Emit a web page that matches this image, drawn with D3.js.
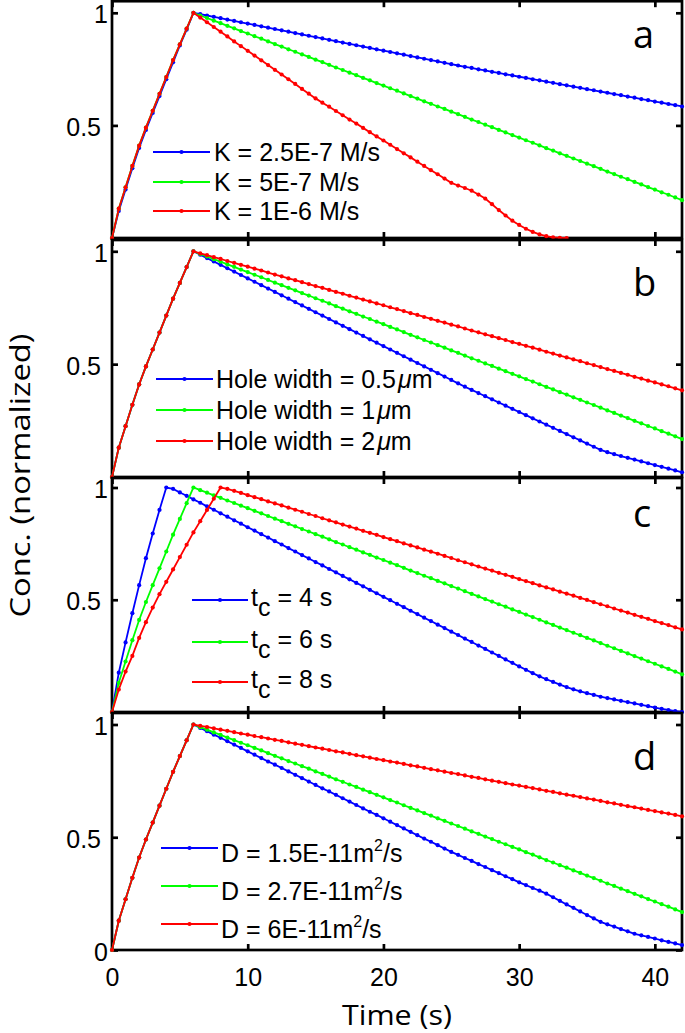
<!DOCTYPE html>
<html>
<head>
<meta charset="utf-8">
<script src="https://cdnjs.cloudflare.com/ajax/libs/d3/7.8.5/d3.min.js"></script>
<style>
  body { margin: 0; background: #fff; }
</style>
</head>
<body>
<svg width="685" height="1033"></svg>
<script>
// sample times (s)
var time = [0,0.5,1,1.5,2,2.5,3,3.5,4,4.5,5,5.5,6,6.5,7,7.5,8,8.5,9,9.5,10,10.5,11,11.5,12,12.5,13,13.5,14,14.5,15,15.5,16,16.5,17,17.5,18,18.5,19,19.5,20,20.5,21,21.5,22,22.5,23,23.5,24,24.5,25,25.5,26,26.5,27,27.5,28,28.5,29,29.5,30,30.5,31,31.5,32,32.5,33,33.5,34,34.5,35,35.5,36,36.5,37,37.5,38,38.5,39,39.5,40,40.5,41,41.5,42];

var xTicks = [0, 10, 20, 30, 40];
var yTicks = [0, 0.5, 1];

// base case (K = 5E-7, 1um, tc = 6 s, D = 2.7E-11) -- green in every panel
var baseCase = [0,0.13,0.225,0.32,0.41,0.49,0.565,0.64,0.715,0.79,0.86,0.93,1,
  0.988,0.977,0.965,0.954,0.942,0.931,0.919,0.908,0.896,0.885,
  0.873,0.861,0.850,0.838,0.827,0.815,0.804,0.792,0.781,0.769,
  0.757,0.746,0.734,0.723,0.711,0.700,0.688,0.677,0.665,0.654,
  0.642,0.630,0.619,0.607,0.596,0.584,0.573,0.561,0.550,0.538,
  0.526,0.515,0.503,0.492,0.480,0.469,0.457,0.446,0.434,0.423,
  0.411,0.399,0.388,0.376,0.365,0.353,0.342,0.330,0.319,0.307,
  0.295,0.284,0.272,0.261,0.249,0.238,0.226,0.215,0.203,0.192,
  0.180,0.168];

// panel a : K
var kLabels = ["K = 2.5E-7 M/s", "K = 5E-7 M/s", "K = 1E-6 M/s"];
var kSlow = [0,0.12,0.215,0.31,0.40,0.48,0.555,0.63,0.705,0.78,0.855,0.925,1,
  0.994,0.988,0.982,0.976,0.970,0.964,0.958,0.952,0.946,0.940,
  0.934,0.928,0.922,0.916,0.910,0.904,0.898,0.892,0.886,0.880,
  0.874,0.868,0.862,0.856,0.850,0.844,0.838,0.832,0.826,0.820,
  0.814,0.808,0.802,0.796,0.790,0.784,0.778,0.772,0.766,0.760,
  0.755,0.749,0.744,0.738,0.733,0.727,0.722,0.716,0.711,0.705,
  0.700,0.694,0.689,0.683,0.678,0.672,0.667,0.661,0.656,0.650,
  0.645,0.639,0.634,0.628,0.623,0.617,0.612,0.606,0.601,0.595,
  0.590,0.584];
var kFast = [0,0.13,0.225,0.32,0.41,0.49,0.565,0.64,0.715,0.79,0.86,0.93,1,
  0.979,0.958,0.937,0.916,0.895,0.873,0.852,0.831,0.810,0.789,
  0.768,0.747,0.726,0.705,0.684,0.662,0.641,0.620,
  0.601,0.583,0.564,0.545,0.526,0.508,0.489,0.470,0.451,0.433,
  0.414,0.395,0.376,0.358,0.339,0.320,0.301,0.283,0.264,0.245,
  0.233,0.222,0.210,0.193,0.175,0.150,0.124,0.100,0.077,0.058,
  0.041,0.027,0.016,0.008,0.003,0.001,0];

// panel b : hole width
var hLabels = ["Hole width = 0.5μm", "Hole width = 1μm", "Hole width = 2μm"];
var hNarrow = [0,0.13,0.225,0.32,0.41,0.49,0.565,0.64,0.715,0.79,0.86,0.93,1,
  0.985,0.970,0.955,0.940,0.925,0.910,0.895,0.880,0.865,0.850,
  0.835,0.820,0.805,0.790,0.775,0.760,0.745,0.730,0.715,0.700,
  0.685,0.670,0.655,0.640,0.625,0.610,0.595,0.580,0.565,0.550,
  0.535,0.520,0.505,0.490,0.475,0.460,0.445,0.430,0.415,0.400,
  0.386,0.372,0.358,0.344,0.330,0.316,0.302,0.288,0.274,0.260,
  0.246,0.232,0.218,0.204,0.190,0.176,0.162,0.148,0.134,0.120,
  0.110,0.101,0.093,0.085,0.077,0.069,0.061,0.053,0.045,0.037,
  0.029,0.021];
var hWide = [0,0.13,0.225,0.32,0.41,0.49,0.565,0.64,0.715,0.79,0.86,0.93,1,
  0.991,0.983,0.974,0.966,0.957,0.949,0.940,0.932,0.923,0.915,
  0.906,0.897,0.889,0.880,0.872,0.863,0.855,0.846,0.838,0.829,
  0.820,0.812,0.803,0.795,0.786,0.778,0.769,0.761,0.752,0.744,
  0.735,0.726,0.718,0.709,0.701,0.692,0.684,0.675,0.667,0.658,
  0.649,0.641,0.632,0.624,0.615,0.607,0.598,0.590,0.581,0.573,
  0.564,0.555,0.547,0.538,0.530,0.521,0.513,0.504,0.496,0.487,
  0.478,0.470,0.461,0.453,0.444,0.436,0.427,0.419,0.410,0.402,
  0.393,0.384];

// panel c : tc
var tLabels = ["t_c = 4 s", "t_c = 6 s", "t_c = 8 s"];
var tShort = [0,0.175,0.31,0.44,0.565,0.685,0.795,0.90,1,
  0.994,0.978,0.963,0.947,0.932,0.916,0.901,0.885,0.870,0.854,
  0.839,0.823,0.808,0.792,0.777,0.761,0.746,0.730,0.715,0.699,
  0.684,0.668,0.653,0.637,0.622,0.606,0.591,0.575,0.560,0.544,
  0.529,0.513,0.498,0.482,0.467,0.451,0.436,0.420,0.405,0.389,
  0.374,0.358,0.343,0.327,0.312,0.296,0.281,0.265,0.250,0.234,
  0.219,0.203,
  0.188,0.173,0.159,0.146,0.134,0.122,0.111,0.101,0.092,0.084,
  0.076,0.068,0.062,0.056,0.050,0.044,0.038,0.032,0.026,0.020,
  0.014,0.009,0.004,0];
var tLong = [0,0.10,0.18,0.25,0.33,0.40,0.465,0.525,0.58,0.635,0.69,0.745,0.80,0.85,0.90,0.95,1,
  0.994,0.985,0.976,0.966,0.957,0.948,0.938,0.929,0.920,0.910,
  0.901,0.892,0.882,0.873,0.863,0.854,0.845,0.835,0.826,0.817,
  0.807,0.798,0.789,0.779,0.770,0.761,0.751,0.742,0.733,0.723,
  0.714,0.705,0.695,0.686,0.676,0.667,0.658,0.648,0.639,0.630,
  0.620,0.611,0.602,0.592,0.583,0.574,0.564,0.555,0.546,0.536,
  0.527,0.518,0.508,0.499,0.489,0.480,0.471,0.461,0.452,0.443,
  0.433,0.424,0.415,0.405,0.396,0.387,0.377,0.368];

// panel d : D
var dLabels = ["D = 1.5E-11m^2/s", "D = 2.7E-11m^2/s", "D = 6E-11m^2/s"];
var dLow = [0,0.13,0.225,0.32,0.41,0.49,0.565,0.64,0.715,0.79,0.86,0.93,1,
  0.985,0.970,0.955,0.941,0.926,0.911,0.896,0.881,0.866,0.851,
  0.836,0.822,0.807,0.792,0.777,0.762,0.747,0.732,0.717,0.703,
  0.688,0.673,0.658,0.643,0.628,0.613,0.599,0.584,0.569,0.554,
  0.539,0.524,0.509,0.494,0.480,0.465,0.450,0.435,
  0.422,0.408,0.395,0.381,0.368,0.354,0.341,0.327,0.314,0.300,
  0.288,0.275,0.263,0.250,0.234,0.218,0.202,0.187,0.171,0.155,
  0.140,0.125,0.114,0.104,0.093,0.083,0.072,
  0.065,0.058,0.051,0.043,0.036,0.029,0.022];
var dHigh = [0,0.13,0.225,0.32,0.41,0.49,0.565,0.64,0.715,0.79,0.86,0.93,1,
  0.994,0.989,0.983,0.977,0.972,0.966,0.960,0.955,0.949,0.944,
  0.938,0.932,0.927,0.921,0.915,0.910,0.904,0.898,0.893,0.887,
  0.881,0.876,0.870,0.864,0.859,0.853,0.847,0.842,0.836,0.831,
  0.825,0.819,0.814,0.808,0.802,0.797,0.791,0.785,0.780,0.774,
  0.768,0.763,0.757,0.751,0.746,0.740,0.734,0.729,0.723,0.718,
  0.712,0.706,0.701,0.695,0.689,0.684,0.678,0.672,0.667,0.661,
  0.655,0.650,0.644,0.638,0.633,0.627,0.621,0.616,0.610,0.605,
  0.599,0.593];

var colors = ["#0000ff", "#00ff00", "#ff0000"];

var panels = [
  {top: 1.2, y1: 12.8, bottom: 238, letter: "a", letterY: 48, series: [kSlow, baseCase, kFast], labels: kLabels,
   leg: {x1: 153, x2: 210, tx: 214, rows: [152, 182, 211], base: 8.5}},
  {top: 240, y1: 251.3, bottom: 477, letter: "b", letterY: 296, series: [hNarrow, baseCase, hWide], labels: hLabels,
   leg: {x1: 156, x2: 213, tx: 216, rows: [379, 410, 441], base: 8.5}},
  {top: 478, y1: 487.5, bottom: 712, letter: "c", letterY: 527, series: [tShort, baseCase, tLong], labels: tLabels,
   leg: {x1: 192, x2: 248, tx: 251, rows: [600, 642, 682], base: 5.5}},
  {top: 713, y1: 724.5, bottom: 950, letter: "d", letterY: 770, series: [dLow, baseCase, dHigh], labels: dLabels,
   leg: {x1: 161, x2: 218, tx: 221, rows: [848, 886, 924], base: 14}}
];

var svg = d3.select("svg");
var x = d3.scaleLinear().domain([0, 42]).range([112, 682]);
var tickFont = "'Liberation Sans', Arial, Helvetica, sans-serif";
var titleFont = "'Open Sans', 'Noto Sans', sans-serif";
var lw = 2.7;

// writes a legend label, "_c" -> subscript, "^2" -> superscript, mu in italics
function writeLabel(text, str) {
  var parts = str.split(/(_\w|\^\w|μ)/).filter(function(s) { return s !== ""; });
  var shift = 0;
  parts.forEach(function(s) {
    var ts = text.append("tspan");
    if (s[0] === "_") {
      ts.text(s.slice(1)).attr("dy", 10 - shift); shift = 10;
    } else if (s[0] === "^") {
      ts.text(s.slice(1)).attr("dy", -11 - shift).attr("font-size", 16); shift = -11;
    } else {
      ts.text(s);
      if (shift !== 0) { ts.attr("dy", -shift); shift = 0; }
      if (s === "μ") ts.attr("font-style", "italic").attr("dx", 2);
    }
  });
}

panels.forEach(function(p, i) {
  var last = i === panels.length - 1;
  var y = d3.scaleLinear().domain([0, 1]).range([p.bottom, p.y1]);
  var g = svg.append("g");

  g.append("g").attr("transform", "translate(0," + p.bottom + ")")
    .call(d3.axisBottom(x).tickValues(xTicks).tickSize(-6).tickPadding(18)
      .tickFormat(last ? function(d) { return d; } : ""));
  g.append("g").attr("transform", "translate(0," + p.top + ")")
    .call(d3.axisTop(x).tickValues(xTicks).tickSize(-6).tickFormat(""));
  var axL = g.append("g").attr("transform", "translate(112,0)")
    .call(d3.axisLeft(y).tickValues(yTicks).tickSize(-6).tickPadding(8)
      .tickFormat(function(d) { return (d === 0 && !last) ? "" : d; }));
  g.append("g").attr("transform", "translate(682,0)")
    .call(d3.axisRight(y).tickValues(yTicks).tickSize(-6).tickFormat(""));

  g.selectAll(".domain").remove();
  g.selectAll(".tick line").attr("stroke", "#000").attr("stroke-width", lw);
  g.selectAll(".tick text").attr("fill", "#000")
    .attr("font-family", tickFont).attr("font-size", 25);
  // single digit labels sit closer to the axis than "0.5"
  axL.selectAll(".tick text")
    .attr("x", function(d) { return d === 0.5 ? -11 : -4; })
    .attr("dy", "0.4em");

  g.append("rect")
    .attr("x", x(0)).attr("y", p.top)
    .attr("width", x(42) - x(0)).attr("height", p.bottom - p.top)
    .attr("fill", "none").attr("stroke", "#000").attr("stroke-width", lw);

  var line = d3.line()
    .x(function(d, j) { return x(time[j]); })
    .y(function(d) { return y(d); });

  p.series.forEach(function(s, k) {
    g.append("path")
      .datum(s)
      .attr("d", line)
      .attr("fill", "none")
      .attr("stroke", colors[k])
      .attr("stroke-width", 1.8);
    g.selectAll(".m" + k)
      .data(s)
      .enter().append("circle")
      .attr("class", "m" + k)
      .attr("cx", function(d, j) { return x(time[j]); })
      .attr("cy", function(d) { return y(d); })
      .attr("r", 2.1)
      .attr("fill", colors[k]);
  });

  // legend
  p.labels.forEach(function(lab, k) {
    var ry = p.leg.rows[k];
    g.append("line")
      .attr("x1", p.leg.x1).attr("x2", p.leg.x2)
      .attr("y1", ry).attr("y2", ry)
      .attr("stroke", colors[k]).attr("stroke-width", 1.8);
    g.append("circle")
      .attr("cx", (p.leg.x1 + p.leg.x2) / 2).attr("cy", ry)
      .attr("r", 2.1).attr("fill", colors[k]);
    var t = g.append("text")
      .attr("x", p.leg.tx).attr("y", ry + p.leg.base)
      .attr("font-family", tickFont).attr("font-size", 25)
      .attr("fill", "#000");
    writeLabel(t, lab);
  });

  g.append("text")
    .attr("x", 633).attr("y", p.letterY)
    .attr("font-family", titleFont).attr("font-size", 38)
    .attr("fill", "#000")
    .text(p.letter);
});

svg.append("text")
  .attr("x", (x(0) + x(42)) / 2).attr("y", 1025)
  .attr("text-anchor", "middle")
  .attr("font-family", titleFont).attr("font-size", 28)
  .attr("textLength", 110).attr("lengthAdjust", "spacingAndGlyphs")
  .text("Time (s)");

svg.append("text")
  .attr("transform", "translate(30," + ((panels[0].top + panels[3].bottom) / 2) + ") rotate(-90)")
  .attr("text-anchor", "middle")
  .attr("font-family", titleFont).attr("font-size", 27)
  .attr("textLength", 284).attr("lengthAdjust", "spacingAndGlyphs")
  .text("Conc. (normalized)");
</script>
</body>
</html>
